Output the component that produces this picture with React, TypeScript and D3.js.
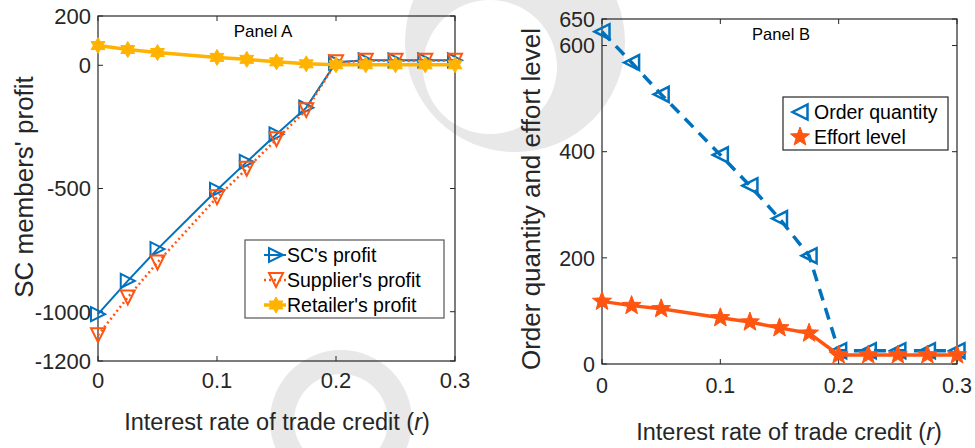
import React from "react";
import * as d3 from "d3";

const rates = [0, 0.025, 0.05, 0.1, 0.125, 0.15, 0.175, 0.2, 0.225, 0.25, 0.275, 0.3];
const scProfit = [-1010, -875, -746, -506, -392, -280, -172, 12, 20, 20, 20, 20];
const supplierProfit = [-1095, -942, -800, -536, -420, -300, -182, 12, 18, 18, 18, 18];
const retailerProfit = [80, 64, 52, 32, 24, 14, 6, 2, 2, 2, 2, 2];
const orderQty = [626, 568, 508, 394, 336, 274, 204, 25, 25, 25, 25, 25];
const effortLevel = [118, 110, 104, 87, 79, 68, 58, 17, 17, 17, 17, 17];

const xTicks = [0, 0.1, 0.2, 0.3];
const xTickLabels = ["0", "0.1", "0.2", "0.3"];
const yTicksA = [200, 0, -500, -1000, -1200];
const yTicksB = [650, 600, 400, 200, 0];

const BLUE = "#0072BD";
const ORANGE = "#FF5511";
const YELLOW = "#FFB300";
const AX = "#262626";
const FONT = "'Liberation Sans', Arial, Helvetica, sans-serif";

function triPath(dir: string, s: number) {
  const h = s / 2;
  if (dir === "right") return `M${h},0L${-h},${-h}L${-h},${h}Z`;
  if (dir === "left") return `M${-h},0L${h},${-h}L${h},${h}Z`;
  if (dir === "down") return `M0,${h}L${-h},${-h}L${h},${-h}Z`;
  return `M0,${-h}L${-h},${h}L${h},${h}Z`;
}
function starPath(n: number, ro: number, ri: number) {
  const pts: string[] = [];
  for (let i = 0; i < 2 * n; i++) {
    const r = i % 2 === 0 ? ro : ri;
    const a = -Math.PI / 2 + (i * Math.PI) / n;
    pts.push(`${(r * Math.cos(a)).toFixed(2)},${(r * Math.sin(a)).toFixed(2)}`);
  }
  return "M" + pts.join("L") + "Z";
}
function circ(cx: number, cy: number, r: number) {
  return `M${cx - r},${cy}a${r},${r} 0 1,0 ${2 * r},0a${r},${r} 0 1,0 ${-2 * r},0Z`;
}

type Series = {
  values: number[];
  color: string;
  width: number;
  dash?: string;
  marker: string;
  markerFill: boolean;
  markerStroke: number;
};

function Panel(props: {
  x0: number; x1: number; y0: number; y1: number;
  yDomain: [number, number]; yTicks: number[];
  series: Series[]; tickFont: number; xLabelFont: number; yLabelFont: number;
  yLabel: string; yLabelX: number; yLabelY: number; xLabelX: number; xLabelY: number; tickLabelY: number;
  title: string; titleX: number; titleY: number; titleFont: number;
}) {
  const { x0, x1, y0, y1 } = props;
  const x = d3.scaleLinear().domain([0, 0.3]).range([x0, x1]);
  const y = d3.scaleLinear().domain(props.yDomain).range([y1, y0]);
  const tl = 5;
  return (
    <g>
      <rect x={x0} y={y0} width={x1 - x0} height={y1 - y0} fill="none" stroke={AX} strokeWidth={1.2} />
      {xTicks.map((t, i) => (
        <g key={"xt" + i}>
          <line x1={x(t)} x2={x(t)} y1={y1} y2={y1 - tl} stroke={AX} />
          <line x1={x(t)} x2={x(t)} y1={y0} y2={y0 + tl} stroke={AX} />
          <text x={x(t)} y={props.tickLabelY} textAnchor="middle" fontSize={props.tickFont} fill={AX} fontFamily={FONT}>{xTickLabels[i]}</text>
        </g>
      ))}
      {props.yTicks.map((t, i) => (
        <g key={"yt" + i}>
          <line x1={x0} x2={x0 + tl} y1={y(t)} y2={y(t)} stroke={AX} />
          <line x1={x1} x2={x1 - tl} y1={y(t)} y2={y(t)} stroke={AX} />
          <text x={x0 - 7} y={y(t)} dy="0.36em" textAnchor="end" fontSize={props.tickFont} fill={AX} fontFamily={FONT}>{t}</text>
        </g>
      ))}
      {props.series.map((s, si) => {
        const line = d3.line<number>().x((_, i) => x(rates[i])).y((v) => y(v));
        return (
          <g key={"s" + si}>
            <path d={line(s.values) || ""} fill="none" stroke={s.color} strokeWidth={s.width} strokeDasharray={s.dash} />
            {s.values.map((v, i) => (
              <path key={i} transform={`translate(${x(rates[i])},${y(v)})`} d={s.marker}
                fill={s.markerFill ? s.color : "none"} stroke={s.color} strokeWidth={s.markerStroke} strokeLinejoin="miter" />
            ))}
          </g>
        );
      })}
      <text x={props.titleX} y={props.titleY} textAnchor="middle" fontSize={props.titleFont} fill="#000" fontFamily={FONT}>{props.title}</text>
      <text transform={`translate(${props.yLabelX},${props.yLabelY}) rotate(-90)`} textAnchor="middle" fontSize={props.yLabelFont} fill={AX} fontFamily={FONT}>{props.yLabel}</text>
      <text x={props.xLabelX} y={props.xLabelY} textAnchor="middle" fontSize={props.xLabelFont} fill={AX} fontFamily={FONT}>
        Interest rate of trade credit (<tspan fontStyle="italic">r</tspan>)
      </text>
    </g>
  );
}

export default function App() {
  const seriesA: Series[] = [
    { values: scProfit, color: BLUE, width: 2, marker: triPath("right", 14), markerFill: false, markerStroke: 2 },
    { values: supplierProfit, color: ORANGE, width: 2.5, dash: "2,3", marker: triPath("down", 14), markerFill: false, markerStroke: 2 },
    { values: retailerProfit, color: YELLOW, width: 3.5, marker: starPath(6, 8, 4.6), markerFill: true, markerStroke: 1 },
  ];
  const seriesB: Series[] = [
    { values: orderQty, color: BLUE, width: 3.5, dash: "12,8", marker: triPath("left", 15), markerFill: false, markerStroke: 2.5 },
    { values: effortLevel, color: ORANGE, width: 3.5, marker: starPath(5, 10, 4.2), markerFill: true, markerStroke: 1 },
  ];
  const legA = [
    { label: "SC's profit", s: seriesA[0] },
    { label: "Supplier's profit", s: seriesA[1] },
    { label: "Retailer's profit", s: seriesA[2] },
  ];
  const legB = [
    { label: "Order quantity", s: seriesB[0] },
    { label: "Effort level", s: seriesB[1] },
  ];
  return (
    <svg width={975} height={448} style={{ position: "absolute", left: 0, top: 0, background: "#fff" }}>
      <rect width={975} height={448} fill="#fff" />
      <g fill="#e8e8e8" fillRule="evenodd">
        <path d={circ(515, 42, 110) + circ(490, 67, 67)} />
        <path d={circ(341, 421, 71) + circ(341, 421, 47)} />
      </g>
      <Panel x0={98} x1={455} y0={16} y1={361} yDomain={[-1200, 200]} yTicks={yTicksA}
        series={seriesA} tickFont={22} xLabelFont={23.5} yLabelFont={26} yLabel="SC members' profit" yLabelX={33} yLabelY={187}
        xLabelX={277} xLabelY={430} tickLabelY={388} title="Panel A" titleX={263} titleY={37} titleFont={17} />
      <Panel x0={602} x1={957} y0={19} y1={364} yDomain={[0, 650]} yTicks={yTicksB}
        series={seriesB} tickFont={21.5} xLabelFont={23.5} yLabelFont={26} yLabel="Order quantity and effort level" yLabelX={540} yLabelY={199}
        xLabelX={789} xLabelY={440} tickLabelY={393} title="Panel B" titleX={781} titleY={40} titleFont={16.5} />
      <g>
        <rect x={245} y={240} width={199} height={78} fill="#fff" stroke="#555" strokeWidth={1.2} />
        {legA.map((d, i) => (
          <g key={i} transform={`translate(0,${255 + i * 25})`}>
            <line x1={264} x2={286} y1={0} y2={0} stroke={d.s.color} strokeWidth={d.s.width} strokeDasharray={d.s.dash} />
            <path transform="translate(276,0)" d={d.s.marker} fill={d.s.markerFill ? d.s.color : "none"} stroke={d.s.color} strokeWidth={d.s.markerStroke} />
            <text x={287} y={0} dy="0.36em" fontSize={19.5} fill="#000" fontFamily={FONT}>{d.label}</text>
          </g>
        ))}
      </g>
      <g>
        <rect x={783} y={97} width={165} height={53} fill="#fff" stroke={AX} strokeWidth={1.2} />
        {legB.map((d, i) => (
          <g key={i} transform={`translate(0,${112 + i * 25})`}>
            <path transform="translate(800,0)" d={d.s.marker} fill={d.s.markerFill ? d.s.color : "none"} stroke={d.s.color} strokeWidth={d.s.markerStroke} />
            <text x={814} y={0} dy="0.36em" fontSize={19.5} fill="#000" fontFamily={FONT}>{d.label}</text>
          </g>
        ))}
      </g>
    </svg>
  );
}
